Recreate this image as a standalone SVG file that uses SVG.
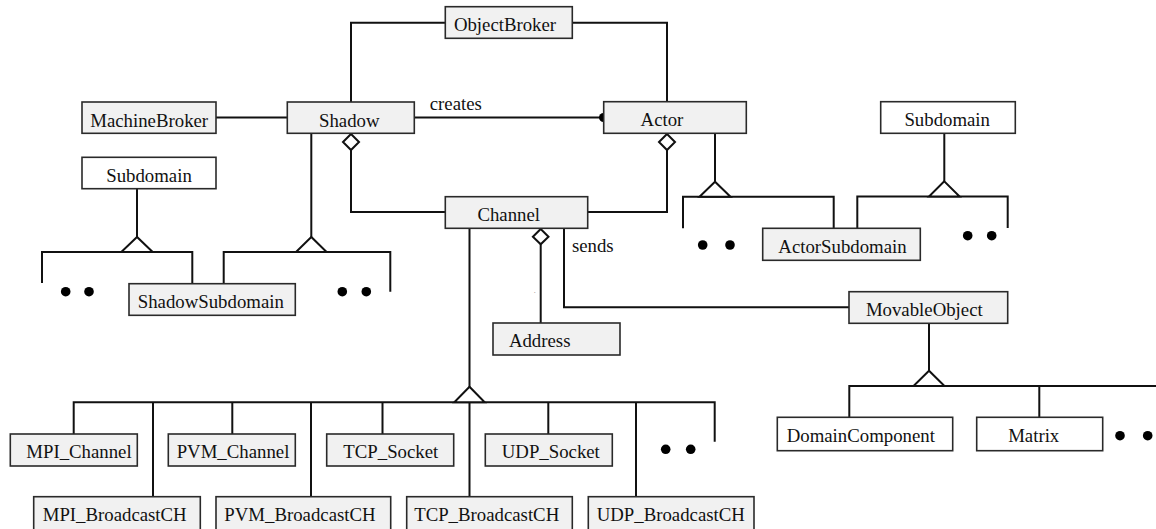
<svg xmlns="http://www.w3.org/2000/svg" width="1156" height="529" viewBox="0 0 1156 529">
<style>
.box{fill:#f1f1f1;stroke:#2a2a2a;stroke-width:1.6}
.wbox{fill:#ffffff;stroke:#2a2a2a;stroke-width:1.6}
.lbl{font-family:"Liberation Serif","Times New Roman",serif;font-size:18.8px;fill:#111;text-anchor:middle}
.ln{fill:none;stroke:#111;stroke-width:2}
.tri{fill:#fff;stroke:#111;stroke-width:2;stroke-linejoin:miter}
.dia{fill:#fff;stroke:#111;stroke-width:2}
.dot{fill:#000}
</style>
<rect width="1156" height="529" fill="#fff"/>
<g id="connectors">
  <path class="ln" d="M351 102 V22.7 H445.3"/>
  <path class="ln" d="M572.3 22.7 H667 V101.7"/>
  <path class="ln" d="M216 117.5 H287.3"/>
  <path class="ln" d="M414.3 117.5 H603.7"/>
  <circle class="dot" cx="603.5" cy="117.5" r="4.5"/>
  <path class="ln" d="M351 150 V212 H445.3"/>
  <polygon class="dia" points="351,134 359,142 351,150 343,142"/>
  <path class="ln" d="M667 150 V212 H587.7"/>
  <polygon class="dia" points="667,134 675,142 667,150 659,142"/>
  <path class="ln" d="M715 133.3 V181.7"/>
  <path class="ln" d="M683 228.3 V196.7 H833.7 V228.3"/>
  <polygon class="tri" points="715,181.7 699.5,196.7 730.5,196.7"/>
  <path class="ln" d="M944.3 133.3 V181.3"/>
  <path class="ln" d="M857.3 228.3 V196.5 H1007.7 V228"/>
  <polygon class="tri" points="944.3,181.3 929,196.5 959.6,196.5"/>
  <path class="ln" d="M137 188.7 V237"/>
  <path class="ln" d="M42 283 V252 H192.3 V283.7"/>
  <polygon class="tri" points="137,237 121.3,252 152.7,252"/>
  <path class="ln" d="M311.3 133.3 V237"/>
  <path class="ln" d="M223.7 283.7 V252 H390.3 V291.7"/>
  <polygon class="tri" points="311.3,237 296,252 326.6,252"/>
  <path class="ln" d="M469.5 228.3 V496.7"/>
  <path class="ln" d="M73.7 434 V402.3 H714.7 V441.7"/>
  <path class="ln" d="M153 402.3 V496.7 M232.3 402.3 V434 M311 402.3 V496.7 M382.5 402.3 V434 M548.3 402.3 V434 M636 402.3 V496.7"/>
  <polygon class="tri" points="469.5,386.7 454.3,402.3 484.7,402.3"/>
  <path class="ln" d="M540.7 244.3 V323"/>
  <polygon class="dia" points="540.7,229 548.5,236.7 540.7,244.3 532.9,236.7"/>
  <path class="ln" d="M564 228.3 V307.3 H849"/>
  <path class="ln" d="M929 323.3 V370.7"/>
  <path class="ln" d="M849.3 417.3 V386 H1158 M1039.3 386 V417.3"/>
  <polygon class="tri" points="929,370.7 913.5,386 944.5,386"/>
  <circle class="dot" cx="65.7" cy="291.7" r="4.8"/>
  <circle class="dot" cx="89" cy="291.7" r="4.8"/>
  <circle class="dot" cx="342.3" cy="291.7" r="4.8"/>
  <circle class="dot" cx="366.3" cy="291.7" r="4.8"/>
  <circle class="dot" cx="702.7" cy="245" r="4.8"/>
  <circle class="dot" cx="730" cy="245" r="4.8"/>
  <circle class="dot" cx="967.7" cy="235.7" r="4.8"/>
  <circle class="dot" cx="991.7" cy="235.7" r="4.8"/>
  <circle class="dot" cx="665.7" cy="449.3" r="4.8"/>
  <circle class="dot" cx="690.7" cy="449.3" r="4.8"/>
  <circle class="dot" cx="1120" cy="435.7" r="4.8"/>
  <circle class="dot" cx="1147.7" cy="435.7" r="4.8"/>
  <text class="lbl" x="455.8" y="110">creates</text>
  <text class="lbl" x="592.8" y="251.7">sends</text>
  <text x="534" y="293" style="font-family:'Liberation Serif',serif;font-size:6px;fill:#666">.</text>
</g>
<g id="ObjectBroker"><rect class="box" x="445.3" y="6.7" width="127" height="31.6"/><text class="lbl" x="505" y="31">ObjectBroker</text></g>
<g id="MachineBroker"><rect class="box" x="82" y="102" width="134" height="31.3"/><text class="lbl" x="149.2" y="126.5">MachineBroker</text></g>
<g id="Shadow"><rect class="box" x="287.3" y="102" width="127" height="31.3"/><text class="lbl" x="349.3" y="126.5">Shadow</text></g>
<g id="Actor"><rect class="box" x="603.7" y="101.7" width="142.6" height="31.6"/><text class="lbl" x="662" y="126.2">Actor</text></g>
<g id="SubdomainLeft"><rect class="wbox" x="82" y="157.3" width="134" height="31.4"/><text class="lbl" x="149" y="181.7">Subdomain</text></g>
<g id="SubdomainRight"><rect class="wbox" x="880.7" y="101.7" width="134.6" height="31.6"/><text class="lbl" x="947.2" y="126.1">Subdomain</text></g>
<g id="Channel"><rect class="box" x="445.3" y="196.7" width="142.4" height="31.6"/><text class="lbl" x="508.7" y="221.1">Channel</text></g>
<g id="ShadowSubdomain"><rect class="box" x="129" y="283.7" width="166.3" height="31.6"/><text class="lbl" x="210.8" y="308.1">ShadowSubdomain</text></g>
<g id="ActorSubdomain"><rect class="box" x="762.7" y="228.3" width="157.6" height="32"/><text class="lbl" x="842.5" y="252.7">ActorSubdomain</text></g>
<g id="Address"><rect class="box" x="493" y="323" width="127" height="32"/><text class="lbl" x="539.7" y="347.4">Address</text></g>
<g id="MovableObject"><rect class="box" x="849" y="291.7" width="158.7" height="31.6"/><text class="lbl" x="924.3" y="316.1">MovableObject</text></g>
<g id="DomainComponent"><rect class="wbox" x="777.3" y="417.3" width="175.4" height="33.4"/><text class="lbl" x="860.8" y="441.7">DomainComponent</text></g>
<g id="Matrix"><rect class="wbox" x="976.7" y="417.3" width="126" height="33.4"/><text class="lbl" x="1033.7" y="441.7">Matrix</text></g>
<g id="MPI_Channel"><rect class="box" x="10.3" y="434" width="127" height="32"/><text class="lbl" x="79" y="458.4">MPI_Channel</text></g>
<g id="PVM_Channel"><rect class="box" x="168.3" y="434" width="127" height="32"/><text class="lbl" x="233" y="458.4">PVM_Channel</text></g>
<g id="TCP_Socket"><rect class="box" x="326.7" y="434" width="127" height="32"/><text class="lbl" x="390.8" y="458.4">TCP_Socket</text></g>
<g id="UDP_Socket"><rect class="box" x="485.3" y="434" width="127" height="32"/><text class="lbl" x="550.8" y="458.4">UDP_Socket</text></g>
<g id="MPI_BroadcastCH"><rect class="box" x="33.7" y="496.7" width="166.6" height="40"/><text class="lbl" x="114.7" y="521.1">MPI_BroadcastCH</text></g>
<g id="PVM_BroadcastCH"><rect class="box" x="216" y="496.7" width="174.7" height="40"/><text class="lbl" x="300" y="521.1">PVM_BroadcastCH</text></g>
<g id="TCP_BroadcastCH"><rect class="box" x="406.7" y="496.7" width="165.6" height="40"/><text class="lbl" x="486.7" y="521.1">TCP_BroadcastCH</text></g>
<g id="UDP_BroadcastCH"><rect class="box" x="588.3" y="496.7" width="165.7" height="40"/><text class="lbl" x="670.8" y="521.1">UDP_BroadcastCH</text></g>
</svg>
